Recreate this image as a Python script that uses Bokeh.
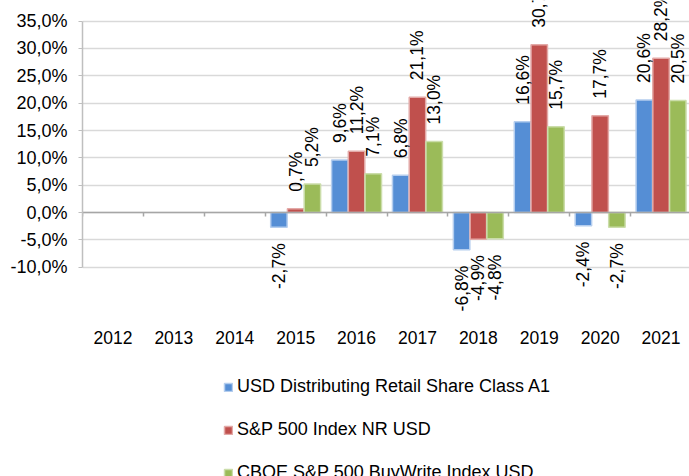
import math
from bokeh.plotting import figure
from bokeh.models import (ColumnDataSource, Range1d, LinearAxis, FixedTicker, Grid,
                          Legend, LegendItem)
from bokeh.core.properties import value
from bokeh.embed import file_html
from bokeh.resources import INLINE

# ---- data ----
years = ["2012", "2013", "2014", "2015", "2016", "2017", "2018", "2019", "2020", "2021"]
fund = [None, None, None, -2.7, 9.6, 6.8, -6.8, 16.6, -2.4, 20.6]
sp500 = [None, None, None, 0.7, 11.2, 21.1, -4.9, 30.7, 17.7, 28.2]
buywrite = [None, None, None, 5.2, 7.1, 13.0, -4.8, 15.7, -2.7, 20.5]
series_names = ["USD Distributing Retail Share Class A1",
                "S&P 500 Index NR USD",
                "CBOE S&P 500 BuyWrite Index USD"]
y_ticks = [-10, -5, 0, 5, 10, 15, 20, 25, 30, 35]

fills = ["#558ED5", "#C0504D", "#9BBB59"]
borders = ["#B4CDEE", "#E3A9A7", "#CBDDAA"]
offsets = [-0.275, 0.0, 0.275]
FONT = "Liberation Sans"

def fmt(v):
    return f"{v:.1f}".replace(".", ",") + "%"

p = figure(width=689, height=476,
           x_range=Range1d(0, 9.967), y_range=Range1d(-48.29, 38.78),
           output_backend="svg", toolbar_location=None,
           x_axis_type=None, y_axis_type=None,
           min_border_left=82, min_border_right=0,
           min_border_top=0, min_border_bottom=0)
p.outline_line_color = None
p.grid.visible = False

# y axis
yaxis = LinearAxis(ticker=FixedTicker(ticks=y_ticks), bounds=(-10, 35),
                   major_label_overrides={t: fmt(t) for t in y_ticks})
yaxis.axis_line_color = "#BFBFBF"
yaxis.axis_line_width = 1.5
yaxis.major_tick_line_color = "#BFBFBF"
yaxis.major_tick_out = 4
yaxis.major_tick_in = 0
yaxis.major_label_standoff = 11
yaxis.major_label_text_font = FONT
yaxis.major_label_text_font_size = "18px"
yaxis.major_label_text_color = "#000000"
p.add_layout(yaxis, "left")

p.add_layout(Grid(dimension=1, ticker=FixedTicker(ticks=y_ticks),
                  grid_line_color="#D9D9D9", grid_line_width=1.5))

# bars
renderers = []
for vals, fc, lc, off in zip([fund, sp500, buywrite], fills, borders, offsets):
    xs = [i + 0.5 + off for i, v in enumerate(vals) if v is not None]
    ys = [v for v in vals if v is not None]
    src = ColumnDataSource(dict(x=xs, top=ys))
    r = p.vbar(x="x", top="top", bottom=0, width=0.27, source=src,
               fill_color=fc, line_color=lc, line_width=1.5)
    renderers.append(r)

# data labels
lx, ly, lt, la, lo = [], [], [], [], []
for vals, off in zip([fund, sp500, buywrite], offsets):
    for i, v in enumerate(vals):
        if v is None:
            continue
        lx.append(i + 0.5 + off)
        ly.append(v)
        lt.append(fmt(v))
        la.append("left" if v >= 0 else "right")
        lo.append(-17 if v >= 0 else 16)
lsrc = ColumnDataSource(dict(x=lx, y=ly, text=lt, align=la, yoff=lo))
p.text(x="x", y="y", text="text", source=lsrc, angle=math.pi / 2,
       text_align="align", text_baseline="middle", y_offset="yoff",
       text_font=value(FONT), text_font_size="17.5px", text_color="#000000")

# zero line with category ticks
zaxis = LinearAxis(ticker=FixedTicker(ticks=list(range(0, 11))), fixed_location=0,
                   bounds=(0, 10))
zaxis.axis_line_color = "#A6A6A6"
zaxis.axis_line_width = 1.5
zaxis.major_tick_line_color = "#A6A6A6"
zaxis.major_tick_line_width = 1.5
zaxis.major_tick_out = 4
zaxis.major_tick_in = 0
zaxis.major_label_text_color = None
zaxis.major_label_text_font_size = "1px"
p.add_layout(zaxis, "below")

# year labels axis
xaxis = LinearAxis(ticker=FixedTicker(ticks=[i + 0.5 for i in range(len(years))]),
                   fixed_location=-19.5,
                   major_label_overrides={i + 0.5: y for i, y in enumerate(years)})
xaxis.axis_line_color = None
xaxis.major_tick_line_color = None
xaxis.major_label_standoff = 6
xaxis.major_label_text_font = FONT
xaxis.major_label_text_font_size = "17.5px"
xaxis.major_label_text_color = "#000000"
p.add_layout(xaxis, "below")

legend = Legend(items=[LegendItem(label=n, renderers=[r]) for n, r in zip(series_names, renderers)],
                location=(141, -7), orientation="vertical",
                glyph_width=10, glyph_height=10, label_standoff=4,
                spacing=22, label_height=20, padding=0, margin=0,
                border_line_color=None, background_fill_alpha=0,
                label_text_font=FONT, label_text_font_size="18px",
                label_text_color="#000000")
p.add_layout(legend)

open("out.html", "w").write(file_html(p, INLINE))
